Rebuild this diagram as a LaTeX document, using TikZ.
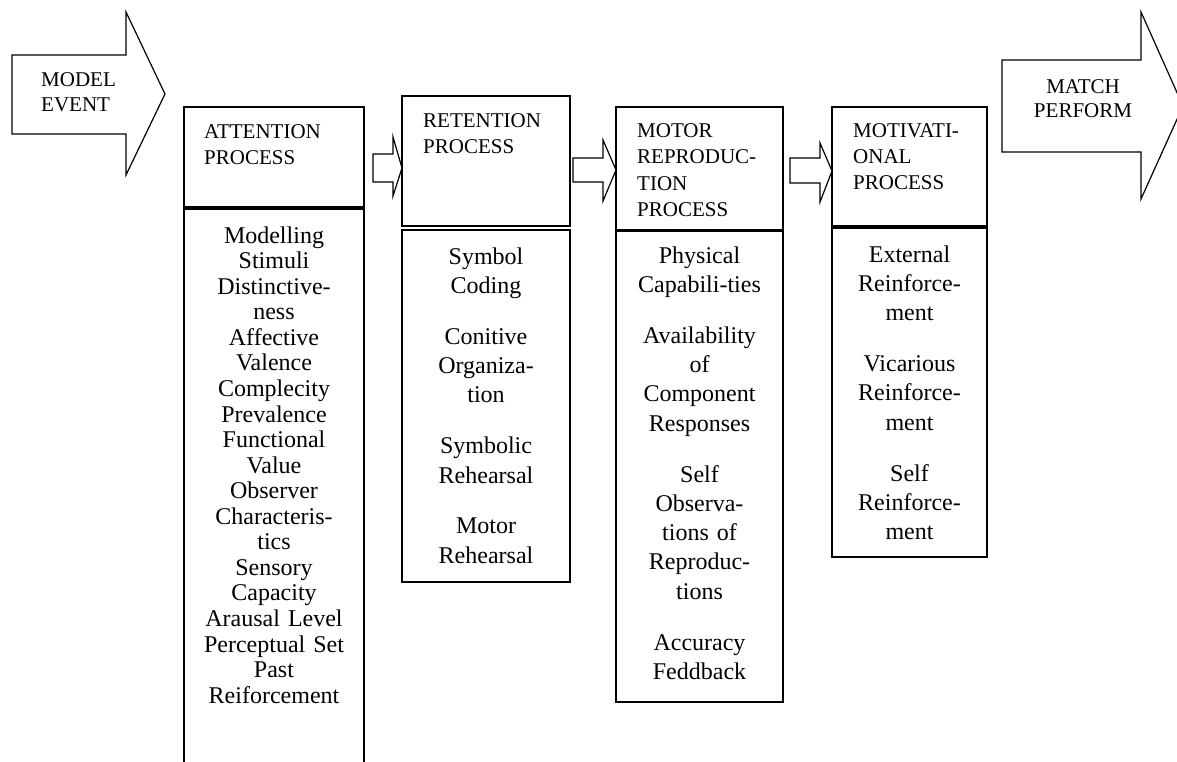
\documentclass[tikz,border=0pt]{standalone}
\usepackage{fontspec}
\setmainfont{Liberation Serif}
\begin{document}
\begin{tikzpicture}[x=1pt,y=-1pt,
  box/.style={draw=black, line width=1.6pt, inner sep=0pt, outer sep=0pt, anchor=north west},
  blockarrow/.style={draw=black, line width=1.2pt, line join=miter, fill=white},
  hdr/.style={font=\fontsize{21}{26.5}\selectfont, align=left, inner sep=0pt, anchor=north west},
  bodytxt/.style={font=\fontsize{24}{29.3}\selectfont, align=center, inner sep=0pt, anchor=north},
  atttxt/.style={font=\fontsize{24}{25.55}\selectfont, align=center, inner sep=0pt, anchor=north}
]
\useasboundingbox[fill=white] (0,0) rectangle (1177,761);
\clip (0,0) rectangle (1177,761);

% big block arrows
\draw[blockarrow] (12,55) -- (126,55) -- (126,12) -- (165,94) -- (126,175) -- (126,134) -- (12,134) -- cycle;
\node[hdr] (model) at (41,86-20) {\rule{0pt}{20pt}MODEL\\[-1.5pt]EVENT};

\draw[blockarrow] (1002,60) -- (1141,60) -- (1141,12) -- (1183,106) -- (1141,199) -- (1141,152) -- (1002,152) -- cycle;
\node[hdr, align=center, anchor=north] (match) at (1083,93-20) {\rule{0pt}{20pt}MATCH\\[-2pt]PERFORM};

% attention
\node[box, minimum width=180pt, minimum height=100pt] (atth) at (184,107) {};
\coordinate (attbl) at (184,775);
\coordinate (attbr) at (364,775);
\draw[line width=1.6pt] (attbl) -- (184,209) -- (364,209) -- (attbr);
\node[hdr] (atthtxt) at (204,138-20) {\rule{0pt}{20pt}ATTENTION\\PROCESS};
\node[atttxt, text width=176pt] (attbtxt) at (274,243-22) {\rule{0pt}{22pt}Modelling\\Stimuli\\Distinctive-\\ness\\Affective\\Valence\\Complecity\\Prevalence\\Functional\\Value\\Observer\\Characteris-\\tics\\Sensory\\Capacity\\Arausal Level\\Perceptual Set\\Past\\Reiforcement};

% retention
\node[box, minimum width=168pt, minimum height=130pt] (reth) at (402,96) {};
\node[box, minimum width=168pt, minimum height=352pt] (retb) at (402,230) {};
\node[hdr] (rethtxt) at (423,127-20) {\rule{0pt}{20pt}RETENTION\\PROCESS};
\node[bodytxt, text width=164pt] (retbtxt) at (486,264-22) {\rule{0pt}{22pt}Symbol\\Coding\\[21.5pt]Conitive\\Organiza-\\tion\\[21.5pt]Symbolic\\Rehearsal\\[21.5pt]Motor\\Rehearsal};

% motor reproduction
\node[box, minimum width=167pt, minimum height=123pt] (moth) at (616,107) {};
\node[box, minimum width=167pt, minimum height=471pt] (motb) at (616,231) {};
\node[hdr] (mothtxt) at (637,137-20) {\rule{0pt}{20pt}MOTOR\\REPRODUC-\\TION\\PROCESS};
\node[bodytxt, text width=163pt] (motbtxt) at (699.5,263-22) {\rule{0pt}{22pt}Physical\\Capabili-ties\\[21.5pt]Availability\\of\\Component\\Responses\\[21.5pt]Self\\Observa-\\tions of\\Reproduc-\\tions\\[21.5pt]Accuracy\\Feddback};

% motivational
\node[box, minimum width=155pt, minimum height=119pt] (motvh) at (832,107) {};
\node[box, minimum width=155pt, minimum height=329pt] (motvb) at (832,228) {};
\node[hdr, font=\fontsize{21}{26}\selectfont] (motvhtxt) at (853,137-20) {\rule{0pt}{20pt}MOTIVATI-\\ONAL\\PROCESS};
\node[bodytxt, text width=151pt] (motvbtxt) at (909.5,262-22) {\rule{0pt}{22pt}External\\Reinforce-\\ment\\[21.5pt]Vicarious\\Reinforce-\\ment\\[21.5pt]Self\\Reinforce-\\ment};

% small block arrows between the process boxes
\draw[blockarrow] (373,154) -- (393,154) -- (393,137) -- (reth.west |- 0,168) -- (393,196) -- (393,182) -- (373,182) -- cycle;
\draw[blockarrow] (573,158) -- (603,158) -- (603,140) -- (moth.west |- 0,170) -- (603,201) -- (603,182) -- (573,182) -- cycle;
\draw[blockarrow] (790,158) -- (820,158) -- (820,143) -- (motvh.west |- 0,171) -- (820,202) -- (820,183) -- (790,183) -- cycle;
\end{tikzpicture}
\end{document}
